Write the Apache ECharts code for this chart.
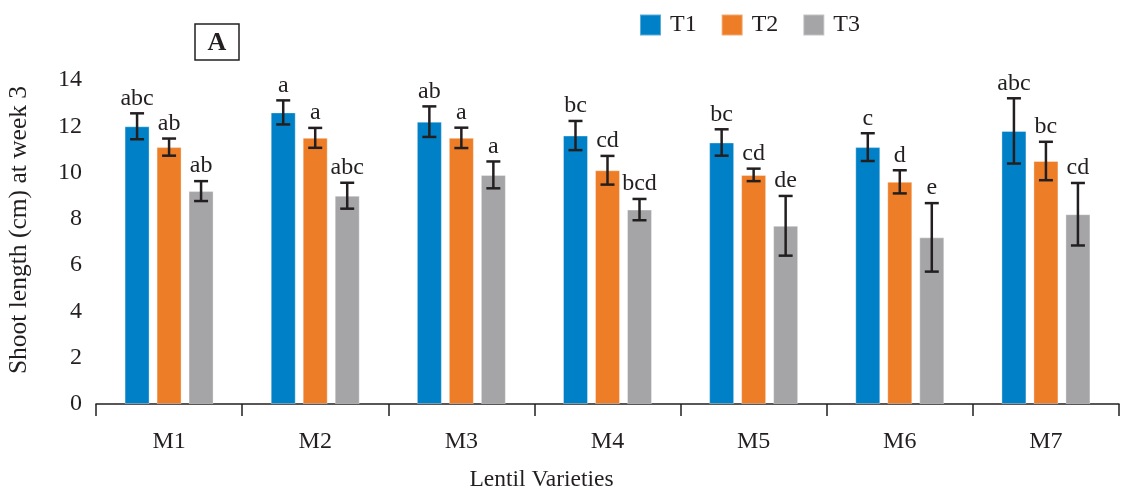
<!DOCTYPE html>
<html>
<head>
<meta charset="utf-8">
<script src="https://cdn.jsdelivr.net/npm/echarts@6/dist/echarts.min.js"></script>
<style>html,body{margin:0;padding:0;background:#fff;}#c{width:1121px;height:488px;}</style>
</head>
<body>
<div id="c"></div>
<script>
const categories = ['M1','M2','M3','M4','M5','M6','M7'];
const seriesNames = ['T1','T2','T3'];
const t1 = [12.0, 12.6, 12.2, 11.6, 11.3, 11.1, 11.8];
const t2 = [11.1, 11.5, 11.5, 10.1, 9.9, 9.6, 10.5];
const t3 = [9.2, 9.0, 9.9, 8.4, 7.7, 7.2, 8.2];
const t1Err = [0.56, 0.52, 0.66, 0.63, 0.57, 0.60, 1.41];
const t2Err = [0.37, 0.43, 0.44, 0.62, 0.27, 0.50, 0.83];
const t3Err = [0.43, 0.56, 0.58, 0.46, 1.29, 1.48, 1.35];
const t1Letters = ['abc','a','ab','bc','bc','c','abc'];
const t2Letters = ['ab','a','a','cd','cd','d','bc'];
const t3Letters = ['ab','abc','a','bcd','de','e','cd'];
const yTicks = [0, 2, 4, 6, 8, 10, 12, 14];

const values = [t1, t2, t3];
const errs = [t1Err, t2Err, t3Err];
const letters = [t1Letters, t2Letters, t3Letters];
const colors = ['#0080C6', '#ED7D26', '#A5A5A8'];
const FONT = '"Liberation Serif", "Times New Roman", serif';
const TXT = '#231F20';
const BAR_W = 25, BAR_GAP = 7;

const chart = echarts.init(document.getElementById('c'));

const barSeries = seriesNames.map((n, i) => ({
  name: n,
  type: 'bar',
  data: values[i],
  barWidth: BAR_W,
  barGap: (BAR_GAP / BAR_W * 100) + '%',
  itemStyle: { color: colors[i], borderColor: 'rgba(255,255,255,0.35)', borderWidth: 1 },
  z: 2
}));

const errSeries = seriesNames.map((n, i) => ({
  type: 'custom',
  name: n + ' err',
  z: 5,
  silent: true,
  data: categories.map((c, j) => [j, values[i][j], errs[i][j]]),
  encode: { x: 0, y: 1 },
  renderItem: function (params, api) {
    const j = api.value(0);
    const v = api.value(1);
    const e = api.value(2);
    const off = (i - 1) * (BAR_W + BAR_GAP);
    const top = api.coord([j, v + e]);
    const bot = api.coord([j, v - e]);
    const x = top[0] + off;
    const cap = 7;
    const style = { stroke: TXT, lineWidth: 2.5 };
    return {
      type: 'group',
      children: [
        { type: 'line', shape: { x1: x, y1: top[1], x2: x, y2: bot[1] }, style: style },
        { type: 'line', shape: { x1: x - cap, y1: top[1], x2: x + cap, y2: top[1] }, style: style },
        { type: 'line', shape: { x1: x - cap, y1: bot[1], x2: x + cap, y2: bot[1] }, style: style },
        { type: 'text', style: { text: letters[i][j], x: x, y: top[1] - 3, align: 'center', verticalAlign: 'bottom', fill: TXT, font: '24px ' + FONT } }
      ]
    };
  }
}));

chart.setOption({
  animation: false,
  backgroundColor: '#fff',
  grid: { left: 96, right: 2, top: 80, bottom: 84, containLabel: false, outerBoundsMode: 'none' },
  legend: {
    data: seriesNames,
    left: 634, top: 8,
    itemWidth: 21, itemHeight: 21, itemGap: 24,
    icon: 'rect',
    textStyle: { fontFamily: FONT, fontSize: 24, color: TXT, padding: [0, 0, 0, 4] }
  },
  graphic: [
    { type: 'rect', shape: { x: 195, y: 24, width: 44, height: 36 }, style: { fill: '#fff', stroke: TXT, lineWidth: 1.5 } },
    { type: 'text', style: { text: 'A', x: 217, y: 43, align: 'center', verticalAlign: 'middle', font: 'bold 26px ' + FONT, fill: TXT } }
  ],
  xAxis: {
    type: 'category',
    data: categories,
    name: 'Lentil Varieties',
    nameLocation: 'middle',
    nameGap: 64,
    nameTextStyle: { fontFamily: FONT, fontSize: 23.5, color: TXT, padding: [0, 132, 0, 0] },
    axisLine: { lineStyle: { color: TXT, width: 1.5 } },
    axisTick: { show: true, length: 12, lineStyle: { color: TXT, width: 1.5 } },
    axisLabel: { fontFamily: FONT, fontSize: 24, color: TXT, margin: 26 }
  },
  yAxis: {
    type: 'value',
    min: yTicks[0], max: yTicks[yTicks.length - 1], interval: 2,
    name: 'Shoot length (cm) at week 3',
    nameLocation: 'middle',
    nameGap: 64,
    nameTextStyle: { fontFamily: FONT, fontSize: 25.5, color: TXT, padding: [0, 0, 0, 24] },
    axisLine: { show: false },
    axisTick: { show: false },
    splitLine: { show: false },
    axisLabel: { fontFamily: FONT, fontSize: 24, color: TXT, margin: 14 }
  },
  series: barSeries.concat(errSeries)
});
</script>
</body>
</html>
